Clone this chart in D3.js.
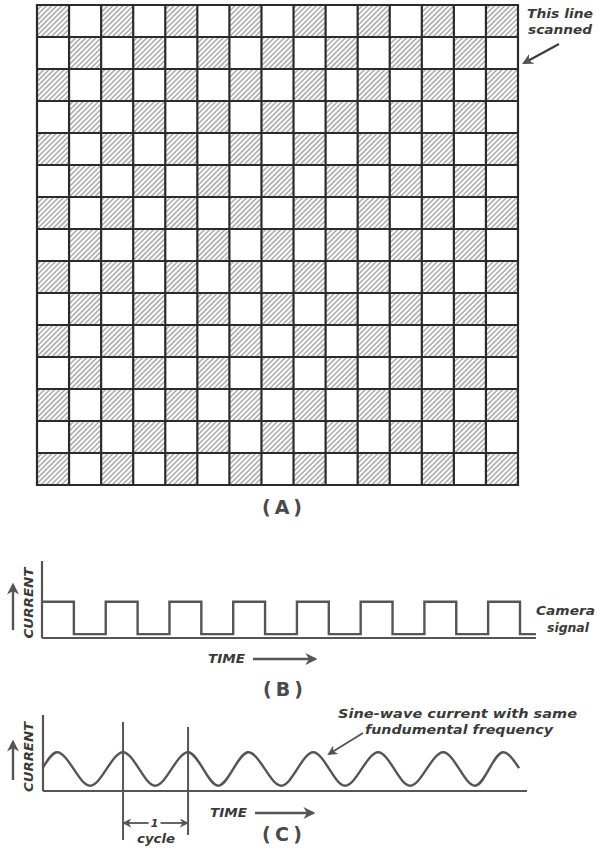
<!DOCTYPE html>
<html>
<head>
<meta charset="utf-8">
<script src="https://cdn.jsdelivr.net/npm/d3@7"></script>
<style>
  html, body { margin: 0; padding: 0; background: #fff; }
  .lbl { font-family: "DejaVu Sans", "Liberation Sans", sans-serif; font-weight: bold; font-style: italic; fill: #3a3a3a; }
  .cap { font-family: "DejaVu Sans", sans-serif; font-weight: bold; fill: #4a4a4a; }
</style>
</head>
<body>
<div id="chart"></div>
<script>
// (A) checkerboard, 1 = hatched cell
const checkerRows = [
  "101010101010101",
  "010101010101010",
  "101010101010101",
  "010101010101010",
  "101010101010101",
  "010101010101010",
  "101010101010101",
  "010101010101010",
  "101010101010101",
  "010101010101010",
  "101010101010101",
  "010101010101010",
  "101010101010101",
  "010101010101010",
  "101010101010101"
];

// (B) camera signal: time in cell widths, level as fraction of axis height
const squareTime  = [0, 1, 2, 3, 4, 5, 6, 7, 8, 9, 10, 11, 12, 13, 14, 15, 15.5];
const squareLevel = [0.47, 0.05, 0.47, 0.05, 0.47, 0.05, 0.47, 0.05, 0.47, 0.05, 0.47, 0.05, 0.47, 0.05, 0.47, 0.05, 0.05];

// (C) sine wave: time in cycles, crests and troughs
const sineTime  = [0, 0.22, 0.74, 1.256, 1.76, 2.276, 2.75, 3.22, 3.74, 4.24, 4.74, 5.26, 5.76, 6.28, 6.78, 7.22, 7.47];
const sineLevel = [0.31, 0.51, 0.07, 0.51, 0.07, 0.51, 0.07, 0.51, 0.07, 0.51, 0.07, 0.51, 0.07, 0.51, 0.07, 0.51, 0.30];
// cycle markers (through two crests)
const cycleMarks = [1.256, 2.276];

const width = 597, height = 851;
const ink = "#2b2b2b", grey = "#555";

const svg = d3.select("#chart").append("svg")
  .attr("width", width).attr("height", height);

const defs = svg.append("defs");
const pat = defs.append("pattern")
  .attr("id", "hatch")
  .attr("patternUnits", "userSpaceOnUse")
  .attr("width", 3.6).attr("height", 4)
  .attr("patternTransform", "rotate(45)");
pat.append("line")
  .attr("x1", 1).attr("y1", 0).attr("x2", 1).attr("y2", 4)
  .attr("stroke", "#8f8f8f").attr("stroke-width", 1.2);

function arrowHead(id, color) {
  defs.append("marker")
    .attr("id", id)
    .attr("viewBox", "0 0 10 10")
    .attr("refX", 8).attr("refY", 5)
    .attr("markerWidth", 5).attr("markerHeight", 5)
    .attr("orient", "auto-start-reverse")
    .append("path")
    .attr("d", "M0,0 L10,5 L0,10 L3,5 Z")
    .attr("fill", color);
}
arrowHead("arr", grey);

// small helper: italic label stretched to the width seen in the picture
function label(x, y, txt, len, anchor) {
  return svg.append("text").attr("class", "lbl")
    .attr("x", x).attr("y", y)
    .attr("text-anchor", anchor || "start")
    .attr("font-size", 12)
    .attr("textLength", len).attr("lengthAdjust", "spacingAndGlyphs")
    .text(txt);
}

// ---------- (A) ----------
const gx = d3.scaleLinear().domain([0, 15]).range([37, 518]);
const gy = d3.scaleLinear().domain([0, 15]).range([5, 485]);

const cells = [];
checkerRows.forEach((row, r) => {
  row.split("").forEach((c, k) => cells.push({ r, k, on: c === "1" }));
});

const gA = svg.append("g");
gA.selectAll("rect.cell")
  .data(cells)
  .join("rect")
  .attr("class", "cell")
  .attr("x", d => gx(d.k))
  .attr("y", d => gy(d.r))
  .attr("width", gx(1) - gx(0))
  .attr("height", gy(1) - gy(0))
  .attr("fill", d => d.on ? "url(#hatch)" : "#fff");

// grid lines
gA.selectAll("line.v")
  .data(d3.range(16))
  .join("line")
  .attr("x1", d => gx(d)).attr("x2", d => gx(d))
  .attr("y1", gy(0) - 1).attr("y2", gy(15) + 1)
  .attr("stroke", ink).attr("stroke-width", 2.2);
gA.selectAll("line.h")
  .data(d3.range(16))
  .join("line")
  .attr("y1", d => gy(d)).attr("y2", d => gy(d))
  .attr("x1", gx(0) - 1).attr("x2", gx(15) + 1)
  .attr("stroke", ink).attr("stroke-width", 2.2);

label(527, 18, "This line", 66);
label(528, 34, "scanned", 64);
svg.append("line")
  .attr("x1", 559).attr("y1", 44).attr("x2", 524).attr("y2", 63)
  .attr("stroke", "#3d3d3d").attr("stroke-width", 2.2)
  .attr("marker-end", "url(#arr)");

function caption(x, y, txt) {
  svg.append("text").attr("class", "cap")
    .attr("x", x).attr("y", y)
    .attr("font-size", 19)
    .attr("textLength", 40).attr("lengthAdjust", "spacing")
    .text(txt);
}
caption(262, 514, "(A)");

// ---------- shared axis drawing ----------
function panel(xs, ys, yTop) {
  const g = svg.append("g");
  g.append("line")
    .attr("x1", xs.range()[0]).attr("x2", xs.range()[0])
    .attr("y1", yTop).attr("y2", ys(0))
    .attr("stroke", grey).attr("stroke-width", 2.2);
  return g;
}

function sideLabels(cyMid, len, arrowBottom, arrowTop, timeX, timeY, timeArrowEnd) {
  svg.append("text").attr("class", "lbl")
    .attr("transform", `translate(33,${cyMid}) rotate(-90)`)
    .attr("text-anchor", "middle")
    .attr("font-size", 13)
    .attr("textLength", len).attr("lengthAdjust", "spacingAndGlyphs")
    .text("CURRENT");
  svg.append("line")
    .attr("x1", 13).attr("x2", 13)
    .attr("y1", arrowBottom).attr("y2", arrowTop)
    .attr("stroke", grey).attr("stroke-width", 2.4)
    .attr("marker-end", "url(#arr)");
  svg.append("text").attr("class", "lbl")
    .attr("x", timeX).attr("y", timeY)
    .attr("font-size", 12)
    .attr("textLength", 37).attr("lengthAdjust", "spacingAndGlyphs")
    .text("TIME");
  svg.append("line")
    .attr("x1", timeX + 45).attr("x2", timeArrowEnd)
    .attr("y1", timeY - 4).attr("y2", timeY - 4)
    .attr("stroke", grey).attr("stroke-width", 2.4)
    .attr("marker-end", "url(#arr)");
}

// ---------- (B) ----------
const bx = d3.scaleLinear().domain([0, 15]).range([42, 520]);
const by = d3.scaleLinear().domain([0, 1]).range([638, 561]);
const gB = panel(bx, by, 561);
gB.append("line")
  .attr("x1", bx(0)).attr("x2", bx(15.5))
  .attr("y1", by(0)).attr("y2", by(0))
  .attr("stroke", grey).attr("stroke-width", 2.2);
gB.append("path")
  .datum(squareTime.map((t, i) => [t, squareLevel[i]]))
  .attr("fill", "none")
  .attr("stroke", grey).attr("stroke-width", 2.4)
  .attr("d", d3.line().x(d => bx(d[0])).y(d => by(d[1])).curve(d3.curveStepAfter));

sideLabels(603, 71, 630, 585, 208, 663, 315);
label(536, 615, "Camera", 59);
label(547, 632, "signal", 42);
caption(263, 696, "(B)");

// ---------- (C) ----------
const cx = d3.scaleLinear().domain([0, 7.5]).range([43, 521]);
const cy = d3.scaleLinear().domain([0, 1]).range([791, 715]);
const gC = panel(cx, cy, 715);
gC.append("line")
  .attr("x1", cx(0)).attr("x2", 527)
  .attr("y1", cy(0)).attr("y2", cy(0))
  .attr("stroke", grey).attr("stroke-width", 2.2);
gC.append("path")
  .datum(sineTime.map((t, i) => [t, sineLevel[i]]))
  .attr("fill", "none")
  .attr("stroke", grey).attr("stroke-width", 2.4)
  .attr("d", d3.line().x(d => cx(d[0])).y(d => cy(d[1])).curve(d3.curveMonotoneX));

gC.selectAll("line.mark")
  .data(cycleMarks)
  .join("line")
  .attr("x1", d => cx(d)).attr("x2", d => cx(d))
  .attr("y1", (d, i) => i === 0 ? 722 : 727)
  .attr("y2", (d, i) => i === 0 ? 840 : 835)
  .attr("stroke", grey).attr("stroke-width", 2);

const midMark = (cx(cycleMarks[0]) + cx(cycleMarks[1])) / 2;
gC.append("line")
  .attr("x1", midMark - 7).attr("x2", cx(cycleMarks[0]) + 1)
  .attr("y1", 823).attr("y2", 823)
  .attr("stroke", grey).attr("stroke-width", 1.8)
  .attr("marker-end", "url(#arr)");
gC.append("line")
  .attr("x1", midMark + 5).attr("x2", cx(cycleMarks[1]) - 1)
  .attr("y1", 823).attr("y2", 823)
  .attr("stroke", grey).attr("stroke-width", 1.8)
  .attr("marker-end", "url(#arr)");
svg.append("text").attr("class", "lbl")
  .attr("x", midMark - 1).attr("y", 827).attr("text-anchor", "middle")
  .attr("font-size", 11).text("1");
label(137, 843, "cycle", 38);

sideLabels(757, 70, 780, 742, 210, 817, 313);

label(338, 718, "Sine-wave current with same", 239);
label(365, 734, "fundumental frequency", 188);
svg.append("line")
  .attr("x1", 363).attr("y1", 733).attr("x2", 329).attr("y2", 754)
  .attr("stroke", grey).attr("stroke-width", 2)
  .attr("marker-end", "url(#arr)");

caption(262, 841, "(C)");
</script>
</body>
</html>
